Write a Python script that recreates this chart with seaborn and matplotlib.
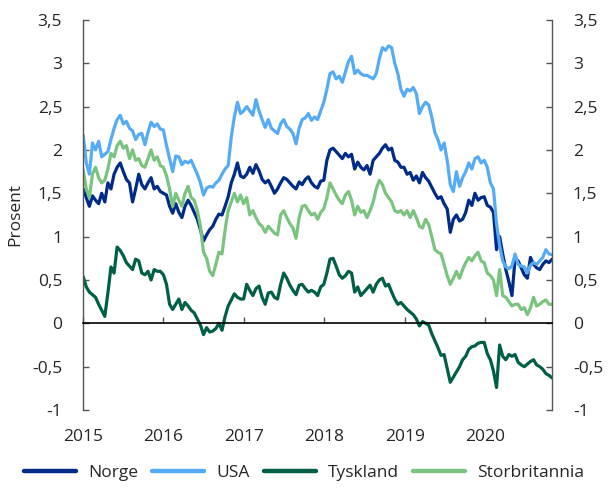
import pandas as pd
import matplotlib.pyplot as plt
import seaborn as sns
from matplotlib.lines import Line2D

# 10-års statsrenter, annenhver uke fra jan 2015 til okt 2020
dates = pd.date_range('2015-01-02', periods=153, freq='14D')

norge = [
    1.55, 1.45, 1.35, 1.47, 1.42, 1.38, 1.50, 1.40, 1.62, 1.55, 1.72, 1.80, 1.85,
    1.75, 1.66, 1.62, 1.40, 1.55, 1.72, 1.60, 1.55, 1.62, 1.68, 1.55, 1.58, 1.52,
    1.50, 1.48, 1.35, 1.27, 1.38, 1.28, 1.22, 1.35, 1.42, 1.36, 1.28, 1.20, 1.08,
    0.95, 1.02, 1.08, 1.12, 1.20, 1.26, 1.25, 1.35, 1.46, 1.62, 1.72, 1.85, 1.70,
    1.68, 1.72, 1.80, 1.73, 1.83, 1.76, 1.66, 1.62, 1.65, 1.58, 1.50, 1.55, 1.62,
    1.68, 1.66, 1.62, 1.58, 1.55, 1.63, 1.60, 1.66, 1.69, 1.62, 1.58, 1.56, 1.64,
    1.65, 1.88, 2.00, 2.02, 1.98, 1.94, 1.90, 1.96, 1.92, 1.95, 1.78, 1.86, 1.80,
    1.77, 1.82, 1.72, 1.88, 1.92, 1.96, 2.02, 2.06, 2.00, 2.02, 1.88, 1.86, 1.80,
    1.80, 1.72, 1.74, 1.65, 1.70, 1.62, 1.74, 1.68, 1.64, 1.57, 1.50, 1.44, 1.46,
    1.38, 1.32, 1.05, 1.20, 1.25, 1.18, 1.20, 1.28, 1.42, 1.36, 1.50, 1.42, 1.45,
    1.46, 1.36, 1.34, 1.28, 0.85, 1.00, 0.80, 0.62, 0.48, 0.32, 0.74, 0.72, 0.64,
    0.56, 0.52, 0.76, 0.68, 0.64, 0.62, 0.68, 0.72, 0.70, 0.74,
]

usa = [
    2.17, 1.85, 1.72, 2.08, 2.00, 2.10, 1.92, 1.95, 1.98, 2.12, 2.25, 2.35, 2.40,
    2.30, 2.33, 2.25, 2.22, 2.12, 2.18, 2.19, 2.06, 2.20, 2.32, 2.27, 2.30, 2.24,
    2.23, 2.05, 1.90, 1.75, 1.93, 1.92, 1.83, 1.87, 1.85, 1.88, 1.80, 1.72, 1.62,
    1.48, 1.56, 1.58, 1.57, 1.62, 1.65, 1.72, 1.78, 1.82, 2.15, 2.38, 2.55, 2.42,
    2.45, 2.50, 2.45, 2.40, 2.58, 2.45, 2.35, 2.26, 2.35, 2.25, 2.22, 2.19, 2.30,
    2.35, 2.27, 2.24, 2.19, 2.07, 2.25, 2.35, 2.37, 2.42, 2.34, 2.38, 2.35, 2.45,
    2.55, 2.70, 2.88, 2.90, 2.82, 2.85, 2.78, 2.90, 3.02, 3.08, 2.88, 2.92, 2.88,
    2.86, 2.86, 2.84, 2.82, 2.88, 3.05, 3.18, 3.15, 3.20, 3.18, 3.00, 2.88, 2.70,
    2.62, 2.70, 2.68, 2.72, 2.65, 2.42, 2.50, 2.55, 2.52, 2.38, 2.20, 2.12, 2.00,
    2.08, 1.88, 1.60, 1.52, 1.75, 1.58, 1.68, 1.75, 1.85, 1.78, 1.90, 1.92, 1.85,
    1.88, 1.80, 1.62, 1.55, 1.15, 0.90, 0.72, 0.65, 0.63, 0.66, 0.80, 0.68, 0.66,
    0.65, 0.58, 0.67, 0.70, 0.68, 0.72, 0.76, 0.85, 0.80, 0.79,
]

tyskland = [
    0.54, 0.42, 0.36, 0.33, 0.30, 0.22, 0.15, 0.08, 0.35, 0.65, 0.58, 0.88, 0.84,
    0.78, 0.70, 0.66, 0.62, 0.74, 0.72, 0.58, 0.56, 0.60, 0.50, 0.62, 0.60, 0.60,
    0.56, 0.45, 0.22, 0.16, 0.22, 0.28, 0.16, 0.24, 0.20, 0.15, 0.12, 0.05, -0.02,
    -0.13, -0.05, -0.10, -0.09, -0.06, 0.00, -0.08, 0.08, 0.20, 0.27, 0.34, 0.30, 0.28,
    0.28, 0.45, 0.38, 0.32, 0.40, 0.43, 0.30, 0.22, 0.35, 0.36, 0.30, 0.28, 0.45,
    0.58, 0.52, 0.44, 0.38, 0.33, 0.44, 0.45, 0.40, 0.36, 0.38, 0.36, 0.32, 0.42,
    0.45, 0.58, 0.74, 0.75, 0.66, 0.56, 0.52, 0.55, 0.60, 0.58, 0.36, 0.42, 0.32,
    0.36, 0.40, 0.44, 0.36, 0.45, 0.50, 0.52, 0.43, 0.45, 0.36, 0.28, 0.22, 0.24,
    0.20, 0.16, 0.13, 0.10, 0.05, -0.03, 0.02, 0.00, -0.02, -0.12, -0.20, -0.28, -0.37,
    -0.36, -0.52, -0.68, -0.62, -0.56, -0.50, -0.42, -0.38, -0.30, -0.27, -0.26, -0.23, -0.22,
    -0.22, -0.35, -0.42, -0.55, -0.74, -0.25, -0.38, -0.42, -0.36, -0.38, -0.36, -0.45, -0.48,
    -0.50, -0.47, -0.44, -0.42, -0.48, -0.50, -0.53, -0.58, -0.60, -0.63,
]

storbritannia = [
    1.77, 1.55, 1.45, 1.72, 1.80, 1.68, 1.62, 1.65, 1.78, 1.96, 1.92, 2.05, 2.10,
    2.02, 2.05, 1.90, 2.00, 1.88, 1.90, 1.82, 1.80, 1.90, 2.00, 1.88, 1.92, 1.82,
    1.80, 1.70, 1.55, 1.35, 1.50, 1.42, 1.35, 1.50, 1.58, 1.45, 1.42, 1.30, 1.12,
    0.82, 0.75, 0.60, 0.55, 0.68, 0.82, 0.80, 1.08, 1.30, 1.40, 1.50, 1.40, 1.48,
    1.38, 1.45, 1.25, 1.30, 1.22, 1.15, 1.12, 1.05, 1.12, 1.08, 1.04, 1.02, 1.25,
    1.30, 1.22, 1.15, 1.10, 0.98, 1.22, 1.35, 1.36, 1.30, 1.25, 1.27, 1.20, 1.28,
    1.32, 1.45, 1.62, 1.55, 1.48, 1.42, 1.38, 1.48, 1.52, 1.42, 1.25, 1.35, 1.28,
    1.30, 1.22, 1.30, 1.40, 1.55, 1.65, 1.60, 1.50, 1.45, 1.40, 1.30, 1.28, 1.30,
    1.25, 1.30, 1.22, 1.30, 1.22, 1.12, 1.10, 1.20, 1.14, 1.00, 0.85, 0.82, 0.80,
    0.68, 0.55, 0.45, 0.52, 0.60, 0.52, 0.62, 0.70, 0.76, 0.72, 0.78, 0.82, 0.72,
    0.70, 0.58, 0.55, 0.50, 0.32, 0.62, 0.32, 0.30, 0.25, 0.20, 0.22, 0.22, 0.16,
    0.18, 0.10, 0.18, 0.30, 0.20, 0.22, 0.25, 0.27, 0.22, 0.22,
]

land = ['Norge', 'USA', 'Tyskland', 'Storbritannia']
farger = {'Norge': '#002B87', 'USA': '#56ABF6',
          'Tyskland': '#005F46', 'Storbritannia': '#7AC47F'}
yticks = [-1, -0.5, 0, 0.5, 1, 1.5, 2, 2.5, 3, 3.5]
years = [2015, 2016, 2017, 2018, 2019, 2020]

df = pd.DataFrame({'Dato': dates, 'Norge': norge, 'USA': usa,
                   'Tyskland': tyskland, 'Storbritannia': storbritannia})
long = df.melt(id_vars='Dato', var_name='Land', value_name='Prosent')

sns.set_style('white')
plt.rcParams['font.family'] = ['Open Sans', 'DejaVu Sans']
plt.rcParams['font.size'] = 12.5

fig = plt.figure(figsize=(6.08, 4.97), dpi=100)
ax = fig.add_axes([0.1365, 0.175, 0.7715, 0.785])
sns.lineplot(data=long, x='Dato', y='Prosent', hue='Land', hue_order=land,
             palette=farger, linewidth=2.3, ax=ax, legend=False)

ax.set_ylim(-1, 3.5)
ax.set_yticks(yticks)
ax.set_yticklabels([f'{v:g}'.replace('.', ',') for v in yticks])
ax.set_xlim(pd.Timestamp('2015-01-01'), dates[-1])
ax.set_xticks([pd.Timestamp(f'{y}-01-01') for y in years])
ax.set_xticklabels([str(y) for y in years])
ax.set_xlabel('')
ax.set_ylabel('Prosent', labelpad=6)

ax.spines['top'].set_visible(False)
ax.spines['bottom'].set_position(('data', 0))
ax.spines['bottom'].set_color('black')
ax.spines['bottom'].set_linewidth(1.2)
for side in ['left', 'right']:
    ax.spines[side].set_color('#555555')
    ax.spines[side].set_linewidth(1.0)

ax.tick_params(axis='y', direction='in', length=4.5, width=1, color='#555555',
               left=True, right=True, labelleft=True, labelright=True, pad=15)
ax.tick_params(axis='x', direction='in', length=4, width=1, color='#555555',
               bottom=True, pad=76)

handles = [Line2D([0], [0], color=farger[n], lw=3.2) for n in land]
fig.legend(handles, land, loc='lower center', bbox_to_anchor=(0.5, 0.0), ncol=4,
           frameon=False, handlelength=3.0, handletextpad=0.7, columnspacing=0.8)

fig.savefig('out.png', dpi=100)
